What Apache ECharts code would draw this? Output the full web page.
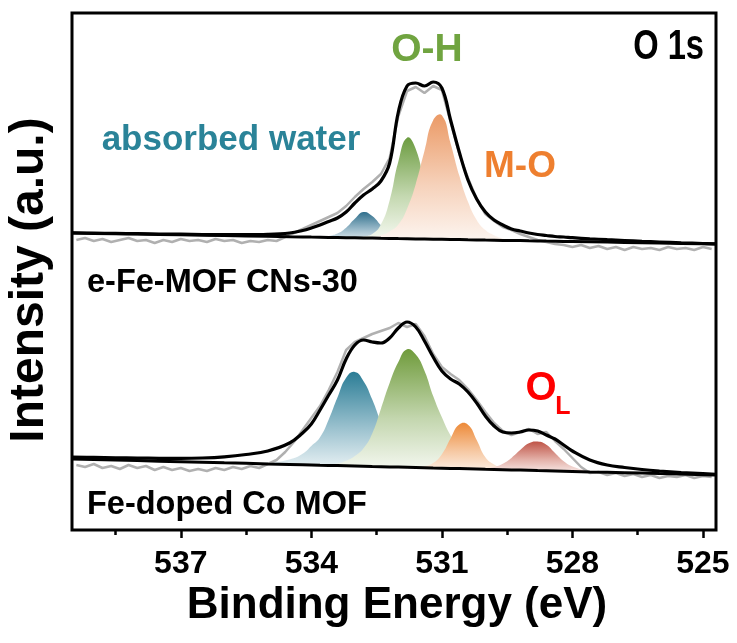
<!DOCTYPE html>
<html>
<head>
<meta charset="utf-8">
<script src="https://cdn.jsdelivr.net/npm/echarts@6/dist/echarts.min.js"></script>
<style>
  html, body { margin: 0; padding: 0; background: #fff; }
  #chart { width: 737px; height: 643px; }
</style>
</head>
<body>
<div id="chart"></div>
<script>
// 能量网格（eV），拟合曲线共用
const energy = [539.5, 539, 538.5, 538, 537.5, 537, 536.5, 536, 535.5, 535, 534.5,
  534.2, 534, 533.8, 533.6, 533.4, 533.2, 533, 532.8, 532.6, 532.4, 532.2, 532,
  531.8, 531.6, 531.4, 531.2, 531, 530.8, 530.6, 530.4, 530.2, 530, 529.8, 529.6,
  529.4, 529.2, 529, 528.8, 528.6, 528.4, 528.2, 528, 527.6, 527.2, 526.8, 526.4,
  526, 525.5, 525, 524.7];

// 原始数据的能量点
const rawEnergy = [539.4, 539.2, 539.0, 538.8, 538.6, 538.4, 538.2, 538.0, 537.8, 537.6,
  537.4, 537.2, 537.0, 536.8, 536.6, 536.4, 536.2, 536.0, 535.8, 535.6, 535.4, 535.2,
  535.0, 534.8, 534.6, 534.4, 534.2, 534.0, 533.8, 533.6, 533.4, 533.2, 533.0, 532.8,
  532.6, 532.4, 532.2, 532.0, 531.8, 531.6, 531.4, 531.2, 531.0, 530.8, 530.6, 530.4,
  530.2, 530.0, 529.8, 529.6, 529.4, 529.2, 529.0, 528.8, 528.6, 528.4, 528.2, 528.0,
  527.8, 527.6, 527.4, 527.2, 527.0, 526.8, 526.6, 526.4, 526.2, 526.0, 525.8, 525.6,
  525.4, 525.2, 525.0, 524.8];

// 刻度
const majorTicks = [537, 534, 531, 528, 525];
const minorTicks = [538.5, 535.5, 532.5, 529.5, 526.5];

// e-Fe-MOF CNs-30（上方谱线）
const topBaseline = [297.0, 296.6, 296.3, 295.9, 295.5, 295.2, 294.8, 294.4, 294.0, 293.7, 293.3,
  293.1, 292.9, 292.8, 292.6, 292.5, 292.3, 292.2, 292.0, 291.9, 291.7, 291.6, 291.4,
  291.3, 291.1, 291.0, 290.8, 290.7, 290.5, 290.4, 290.2, 290.1, 289.9, 289.8, 289.6,
  289.5, 289.4, 289.2, 289.1, 288.9, 288.8, 288.6, 288.5, 288.2, 287.9, 287.6, 287.3,
  287.0, 286.6, 286.2, 286.0];
const topEnvelope = [297.2, 296.9, 296.6, 296.3, 296.0, 295.8, 295.5, 295.3, 295.3, 295.6, 297,
  299.5, 302, 305, 308.5, 312, 318, 327, 335, 341, 349, 367, 418,
  444, 447, 444, 448, 442, 410, 378, 350, 331, 318, 310, 305,
  301, 299, 297, 295.5, 294.5, 293.5, 293, 292.3, 291.2, 290.3, 289.5, 288.7,
  288, 287.2, 286.5, 286.1];
const topWater = [0, 0, 0, 0, 0, 0, 0, 0, 0, 0, 0, 0, 0,
  0.5, 1.5, 4, 10, 19, 26, 22, 13, 5, 1.5, 0.3,
  0, 0, 0, 0, 0, 0, 0, 0, 0, 0, 0, 0, 0, 0, 0, 0, 0, 0, 0, 0, 0, 0, 0, 0, 0, 0, 0];
const topOH = [0, 0, 0, 0, 0, 0, 0, 0, 0, 0, 0, 0, 0, 0, 0, 0, 0,
  0.5, 1.5, 4, 14, 38, 77, 101, 90, 55, 24, 6, 1.2, 0.5,
  0, 0, 0, 0, 0, 0, 0, 0, 0, 0, 0, 0, 0, 0, 0, 0, 0, 0, 0, 0, 0];
const topMO = [0, 0, 0, 0, 0, 0, 0, 0, 0, 0, 0, 0, 0, 0, 0, 0, 0, 0, 0,
  1, 3, 7, 14, 30, 55, 88, 119, 124, 96, 64, 38, 20, 10, 5, 2, 0.5,
  0, 0, 0, 0, 0, 0, 0, 0, 0, 0, 0, 0, 0, 0, 0];
const topRaw = [290, 292, 289, 291, 288, 290, 292, 289, 290, 287, 290, 288, 291, 289, 290, 288,
  291, 289, 290, 287, 289, 288, 290, 289, 293, 297, 301, 305, 309, 313, 317, 324, 333,
  341, 348, 356, 372, 414, 439, 443, 437, 444, 440, 408, 376, 352, 331, 316, 309, 303,
  300, 296, 293, 290, 288, 286, 285, 283, 285, 282, 284, 281, 283, 280, 283, 281, 282,
  280, 283, 281, 282, 280, 283, 281];

// Fe-doped Co MOF（下方谱线）
const botBaseline = [71.0, 70.5, 69.9, 69.4, 68.8, 68.3, 67.8, 67.2, 66.7, 66.1, 65.6,
  65.3, 65.1, 64.8, 64.6, 64.4, 64.2, 64.0, 63.8, 63.5, 63.3, 63.1, 62.9,
  62.7, 62.5, 62.3, 62.0, 61.8, 61.6, 61.4, 61.2, 61.0, 60.7, 60.5, 60.3,
  60.1, 59.9, 59.7, 59.4, 59.2, 59.0, 58.8, 58.6, 58.1, 57.7, 57.3, 56.9,
  56.4, 55.9, 55.3, 55.0];
const botEnvelope = [73, 72.6, 72.2, 71.9, 71.7, 71.6, 72, 73.2, 75.5, 79, 87,
  97, 106, 120, 135, 150, 171, 185, 190, 188, 187, 192, 202,
  208, 203, 189, 173, 159, 151, 146, 138, 127, 114, 104, 98,
  97, 98, 100, 99, 95, 91, 85, 79, 70, 65, 62.5, 60.5,
  59, 57.5, 56.3, 55.6];
const botWater = [0, 0, 0, 0, 0, 0, 0, 0,
  0.5, 1.5, 5, 11, 19, 28, 46, 68, 88, 94, 85, 67, 45, 28, 16, 8, 4, 1.5, 0.5,
  0, 0, 0, 0, 0, 0, 0, 0, 0, 0, 0, 0, 0, 0, 0, 0, 0, 0, 0, 0, 0, 0, 0, 0];
const botOH = [0, 0, 0, 0, 0, 0, 0, 0, 0, 0, 0, 0, 0, 0,
  1, 2, 5, 10, 18, 33, 58, 84, 105, 118, 113, 97, 72, 51, 33, 20, 11, 5, 2, 0.5,
  0, 0, 0, 0, 0, 0, 0, 0, 0, 0, 0, 0, 0, 0, 0, 0, 0];
const botMO = [0, 0, 0, 0, 0, 0, 0, 0, 0, 0, 0, 0, 0, 0, 0, 0, 0, 0, 0, 0, 0, 0, 0, 0,
  0.5, 1.5, 5, 14, 30, 44, 44, 29, 12, 5, 1.5, 0.5,
  0, 0, 0, 0, 0, 0, 0, 0, 0, 0, 0, 0, 0, 0, 0];
const botOL = [0, 0, 0, 0, 0, 0, 0, 0, 0, 0, 0, 0, 0, 0, 0, 0, 0, 0, 0, 0, 0, 0, 0, 0, 0, 0, 0, 0, 0, 0, 0,
  0.3, 1, 2.5, 6, 12, 20, 27, 29, 26, 18, 10, 5, 1,
  0, 0, 0, 0, 0, 0, 0];
const botRaw = [65, 63, 66, 62, 64, 61, 65, 62, 64, 60, 63, 60, 62, 59, 61, 59, 62, 60, 63, 61,
  64, 62, 66, 70, 78, 88, 100, 112, 124, 140, 158, 180, 188, 192, 196, 199, 202, 207,
  203, 206, 194, 176, 163, 156, 150, 141, 130, 118, 107, 99, 95, 98, 101, 96, 98, 89,
  81, 72, 63, 57, 58, 55, 57, 54, 56, 53, 55, 52, 54, 53, 55, 52, 54, 53];

const FONT = '"Liberation Sans", Arial, sans-serif';

const chart = echarts.init(document.getElementById('chart'));

function pairs(xs, ys) {
    return xs.map((x, i) => [x, ys[i]]);
}

// 拟合峰：在基线和(基线+峰高)之间画一个渐变填充的多边形
function peakSeries(base, heights, colors) {
    return {
        type: 'custom', silent: true, z: 1,
        data: energy.map((e, i) => [e, base[i], base[i] + heights[i]]),
        encode: { x: 0, y: [1, 2] },
        renderItem: function (params, api) {
            if (params.dataIndexInside !== 0) return;
            const upper = [], lower = [];
            for (let j = 0; j < energy.length; j++) {
                upper.push(api.coord([api.value(0, j), api.value(2, j)]));
                lower.push(api.coord([api.value(0, j), api.value(1, j)]));
            }
            return {
                type: 'polygon',
                shape: { points: upper.concat(lower.reverse()), smooth: 0.5 },
                style: {
                    fill: new echarts.graphic.LinearGradient(0, 0, 0, 1, [
                        { offset: 0, color: colors[0] },
                        { offset: 0.55, color: colors[1] },
                        { offset: 1, color: colors[2] }
                    ])
                }
            };
        }
    };
}

function lineSeries(xs, ys, color, width, smooth) {
    return {
        type: 'line', data: pairs(xs, ys), symbol: 'none', smooth: smooth,
        silent: true, z: 3, lineStyle: { color: color, width: width }
    };
}

const series = [
    peakSeries(topBaseline, topWater, ['#2f6f8c', '#9dbccb', '#f4f8fa']),
    peakSeries(topBaseline, topOH, ['#6c9c40', '#c4d8b0', '#fafcf8']),
    peakSeries(topBaseline, topMO, ['#eb9a66', '#f6d2bb', '#fdf7f3']),
    peakSeries(botBaseline, botWater, ['#2b7d96', '#9cc2cf', '#f5f9fa']),
    peakSeries(botBaseline, botOH, ['#6f9b3b', '#c3d6ae', '#f9fbf7']),
    peakSeries(botBaseline, botMO, ['#ed8a38', '#f6c9a4', '#fdf6f0']),
    peakSeries(botBaseline, botOL, ['#bf5447', '#e4b2aa', '#fbf3f2']),
    lineSeries(rawEnergy, topRaw, '#b0b0b0', 2.5, false),
    lineSeries(rawEnergy, botRaw, '#b0b0b0', 2.5, false),
    lineSeries(energy, topEnvelope, '#000', 3.2, 0.4),
    lineSeries(energy, botEnvelope, '#000', 3.2, 0.4),
    lineSeries(energy, topBaseline, '#000', 3, false),
    lineSeries(energy, botBaseline, '#000', 3, false)
];

const label = (text, x, y, size, color, align) => ({
    type: 'text', x: x, y: y, silent: true, z: 10,
    style: {
        text: text, fill: color, align: align || 'center', verticalAlign: 'middle',
        font: 'bold ' + size + 'px ' + FONT
    }
});

const option = {
    animation: false,
    grid: {
        left: 72, right: 21, top: 13, bottom: 113,
        show: true, borderColor: '#000', borderWidth: 3
    },
    xAxis: [
        {
            type: 'value', inverse: true, min: 524.7, max: 539.5,
            axisLine: { show: false },
            splitLine: { show: false },
            axisTick: { show: true, customValues: majorTicks, length: 8, lineStyle: { color: '#000', width: 2.5 } },
            axisLabel: {
                customValues: majorTicks, margin: 18, color: '#000',
                fontSize: 32, fontWeight: 'bold', fontFamily: FONT
            }
        },
        {
            type: 'value', inverse: true, min: 524.7, max: 539.5, position: 'bottom',
            axisLine: { show: false },
            splitLine: { show: false },
            axisTick: { show: true, customValues: minorTicks, length: 5, lineStyle: { color: '#000', width: 2.5 } },
            axisLabel: { show: false }
        }
    ],
    yAxis: {
        type: 'value', min: 0, max: 517,
        axisLine: { show: false }, axisTick: { show: false },
        axisLabel: { show: false }, splitLine: { show: false }
    },
    series: series,
    graphic: [
        Object.assign(label('O 1s', 704, 47, 43, '#000', 'right'), { scaleX: 0.76 }),
        label('O-H', 427, 50, 39, '#70a440'),
        label('absorbed water', 231, 140, 35, '#2a8398'),
        label('M-O', 520, 167, 37, '#ee7f2f'),
        label('e-Fe-MOF CNs-30', 87, 283, 32.5, '#000', 'left'),
        label('Fe-doped Co MOF', 87, 505, 32.5, '#000', 'left'),
        label('O', 541, 389, 40, '#ff0000'),
        label('L', 563, 407, 25, '#ff0000'),
        label('Binding Energy (eV)', 397, 606, 44, '#000'),
        Object.assign(label('Intensity (a.u.)', 30, 280, 48, '#000'), { rotation: Math.PI / 2 })
    ]
};

chart.setOption(option);
</script>
</body>
</html>
